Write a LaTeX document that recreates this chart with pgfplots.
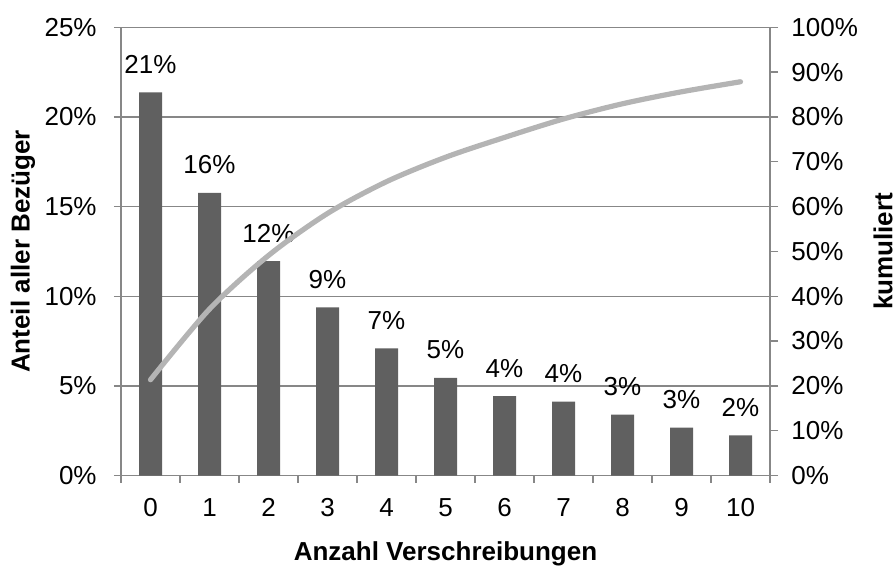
\documentclass[border=0pt]{standalone}
\usepackage{fontspec}
\setmainfont{Liberation Sans}
\usepackage{pgfplots}
\pgfplotsset{compat=1.18}
\definecolor{bargray}{HTML}{606060}
\definecolor{linegray}{HTML}{B4B4B4}
\definecolor{axgray}{HTML}{878787}

\pgfplotstableread{
x y
0 21.37
1 15.76
2 11.96
3 9.38
4 7.09
5 5.44
6 4.43
7 4.12
8 3.39
9 2.67
10 2.24
}\shares

\pgfplotstableread{
x c
0 21.37
1 37.13
2 49.09
3 58.47
4 65.56
5 71.00
6 75.43
7 79.55
8 82.94
9 85.61
10 87.85
}\cumul

\begin{document}
\begin{tikzpicture}[font=\fontsize{13bp}{15bp}\selectfont]
\path[use as bounding box] (0,0) rectangle (448bp,-284bp);
\begin{axis}[
  at={(60.5bp,-237.75bp)}, anchor=south west,
  scale only axis, width=324.5bp, height=224.1bp,
  xmin=-0.5, xmax=10.5, ymin=0, ymax=25,
  axis x line*=bottom, axis y line*=left,
  axis line style={axgray, line width=0.7bp, -},
  tick align=outside,
  xtick={0,...,10},
  minor xtick={-0.5,0.5,...,10.5},
  major x tick style={draw=none},
  minor x tick style={axgray, line width=0.7bp},
  minor tick length=3.5bp,
  major tick length=3.5bp,
  ytick={0,5,...,25},
  y tick style={axgray, line width=0.7bp},
  ymajorgrids, grid style={axgray, line width=0.7bp},
  /pgf/number format/assume math mode=true,
  yticklabel={\pgfmathprintnumber{\tick}\%},
  yticklabel style={anchor=east, inner sep=0pt, xshift=-8.5bp},
  xticklabel style={anchor=base, inner sep=0pt, yshift=-16.75bp},
  xlabel={\bfseries Anzahl Verschreibungen},
  xlabel style={at={(axis description cs:0.5,0)}, anchor=base, yshift=-42.25bp},
  ylabel={\bfseries Anteil aller Bezüger},
  ylabel style={at={(axis description cs:0,0.5)}, anchor=center, yshift=49bp},
  clip=false,
]
\addplot[ybar, bar width=11.5bp, fill=bargray, draw=none,
  point meta=y,
  nodes near coords={\pgfmathprintnumber[fixed,precision=0]{\pgfplotspointmeta}\%},
  every node near coord/.append style={anchor=base, inner sep=0pt, yshift=9.5bp, text=black}]
  table[x=x, y=y] {\shares};
\end{axis}
\begin{axis}[
  at={(60.5bp,-237.75bp)}, anchor=south west,
  scale only axis, width=324.5bp, height=224.1bp,
  xmin=-0.5, xmax=10.5, ymin=0, ymax=100,
  axis x line=none, axis y line*=right,
  axis line style={axgray, line width=0.7bp, -},
  tick align=outside,
  major tick length=4bp,
  ytick={0,10,...,100},
  y tick style={axgray, line width=0.7bp},
  /pgf/number format/assume math mode=true,
  yticklabel={\pgfmathprintnumber{\tick}\%},
  yticklabel style={anchor=west, inner sep=0pt, xshift=6.5bp},
  ylabel={\bfseries kumuliert},
  ylabel style={at={(axis description cs:1,0.5)}, anchor=center, yshift=-56.5bp},
  clip=false,
]
\addplot[linegray, line width=2.6bp, smooth, line cap=round, mark=none]
  table[x=x, y=c] {\cumul};
\end{axis}
\end{tikzpicture}
\end{document}
